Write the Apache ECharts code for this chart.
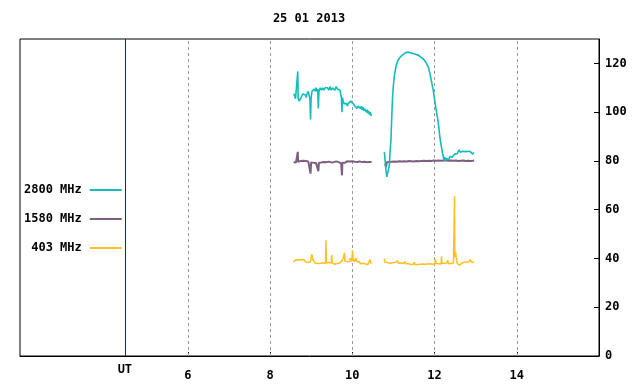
<!DOCTYPE html>
<html><head><meta charset="utf-8">
<script src="https://cdn.jsdelivr.net/npm/echarts@6/dist/echarts.min.js"></script>
<style>html,body{margin:0;padding:0;background:#fff}#c{width:640px;height:384px}</style>
</head><body><div id="c"></div>
<script>
var titleText = '25 01 2013';
var seriesNames = ['2800 MHz', '1580 MHz', '403 MHz'];
var xTicks = [6, 8, 10, 12, 14];
var utPos = 4.467;
var yTicks = [0, 20, 40, 60, 80, 100, 120];

var teal1 = [[8.58,107.6],[8.60,106.5],[8.62,105.5],[8.64,106],[8.66,105],[8.675,116.7],[8.685,105.5],[8.71,104.5],[8.73,105],[8.75,105.8],[8.77,106.5],[8.80,107.5],[8.82,107],[8.84,108],[8.86,107],[8.88,106],[8.90,107.5],[8.93,108.5],[8.95,107],[8.97,105.5],[8.985,97],[9.00,106],[9.02,108.5],[9.04,109],[9.06,108],[9.08,109.5],[9.10,108.5],[9.12,110],[9.14,108.5],[9.16,109.5],[9.175,101.5],[9.19,108.5],[9.22,110],[9.25,109],[9.28,110],[9.31,109],[9.34,110],[9.37,109.5],[9.40,110],[9.43,109],[9.46,110.5],[9.49,109],[9.52,110],[9.55,109.5],[9.58,109],[9.61,110.5],[9.64,109.5],[9.67,110],[9.70,109],[9.72,108.5],[9.735,106],[9.75,100],[9.76,106],[9.78,104.5],[9.80,103.5],[9.82,104],[9.84,103],[9.86,103.5],[9.88,102.5],[9.90,103.5],[9.92,104],[9.94,103.5],[9.96,104.5],[9.98,104],[10.00,104.5],[10.02,103.5],[10.04,104],[10.06,102.5],[10.08,102],[10.10,103],[10.12,101.5],[10.14,102.5],[10.16,102],[10.18,103],[10.20,101.5],[10.22,102.5],[10.24,101],[10.26,102],[10.28,100.5],[10.30,101.5],[10.32,101],[10.34,100],[10.36,101],[10.38,99.5],[10.40,100.5],[10.42,99],[10.44,100],[10.46,98.5],[10.47,99]];
var teal2 = [[10.78,83.7],[10.80,80],[10.82,76],[10.84,73.5],[10.86,74],[10.88,73.4],[10.90,78],[10.92,84],[10.94,88.4],[10.96,98],[10.98,106],[11.00,111],[11.02,114.4],[11.04,116.5],[11.06,118.5],[11.08,119.9],[11.10,120.8],[11.12,121.5],[11.14,122],[11.16,122.6],[11.19,123],[11.22,123.5],[11.25,123.8],[11.28,124],[11.31,124.5],[11.34,124],[11.37,124.6],[11.40,123.8],[11.43,124.3],[11.46,123.5],[11.49,124],[11.52,123.3],[11.55,123.6],[11.58,123],[11.61,123.4],[11.64,122.8],[11.67,122.5],[11.70,122],[11.73,121.8],[11.76,121.2],[11.79,120.5],[11.82,119.5],[11.85,118.5],[11.87,117],[11.89,115.8],[11.91,114],[11.93,112.3],[11.95,110.5],[11.97,108.9],[11.99,106.5],[12.01,104.1],[12.03,102],[12.05,100],[12.07,98],[12.09,95.9],[12.11,93],[12.13,89.8],[12.15,87.5],[12.17,85.7],[12.19,83.5],[12.21,82],[12.23,80.5],[12.25,81.5],[12.27,80],[12.29,81],[12.31,80.3],[12.33,81.5],[12.35,80.5],[12.37,81.8],[12.39,81],[12.41,82],[12.43,81.5],[12.45,82.3],[12.47,82],[12.49,82.8],[12.51,82.5],[12.53,83.3],[12.55,83],[12.57,83.5],[12.60,84.5],[12.63,83.5],[12.66,84.3],[12.69,84],[12.72,84.5],[12.75,83.8],[12.78,84.4],[12.81,84],[12.84,84.6],[12.87,83.8],[12.90,84.3],[12.93,82.8],[12.96,83.5]];

var purple1 = [[8.57,79.5],[8.60,79.8],[8.63,79.3],[8.66,79.9],[8.675,83.7],[8.685,79.6],[8.72,80.3],[8.75,80.0],[8.78,80.5],[8.81,80.1],[8.84,80.6],[8.87,80.0],[8.90,80.4],[8.93,79.8],[8.96,79.2],[8.985,74.8],[9.00,79.4],[9.03,79.8],[9.06,79.2],[9.09,79.7],[9.12,79.1],[9.15,79.6],[9.175,75.8],[9.19,79.3],[9.22,78.6],[9.25,79.4],[9.28,79.0],[9.31,79.6],[9.34,78.9],[9.37,79.5],[9.40,79.1],[9.43,79.7],[9.46,79.0],[9.49,79.4],[9.52,78.8],[9.55,79.5],[9.58,79.2],[9.61,79.8],[9.64,79.0],[9.67,79.5],[9.70,79.2],[9.73,79.0],[9.75,74.1],[9.76,79.3],[9.79,79.8],[9.82,79.2],[9.85,79.6],[9.88,79.9],[9.91,79.3],[9.94,79.8],[9.97,79.4],[10.00,79.9],[10.03,79.2],[10.06,79.7],[10.09,79.1],[10.12,79.6],[10.15,79.3],[10.18,79.8],[10.21,79.0],[10.24,79.5],[10.27,79.2],[10.30,79.7],[10.33,79.0],[10.36,79.5],[10.39,79.1],[10.42,79.6],[10.45,79.2],[10.47,79.6]];
var purple2 = [[10.80,78.9],[10.82,77.5],[10.84,79.5],[10.87,79.9],[10.90,79.6],[10.93,80.0],[10.96,79.7],[10.99,80.2],[11.02,79.8],[11.05,80.1],[11.08,79.7],[11.11,80.3],[11.14,79.9],[11.17,80.2],[11.20,79.8],[11.23,80.4],[11.26,79.9],[11.29,80.2],[11.32,79.8],[11.35,80.3],[11.38,80.0],[11.41,80.4],[11.44,79.9],[11.47,80.2],[11.50,79.8],[11.53,80.3],[11.56,80.0],[11.59,80.4],[11.62,79.9],[11.65,80.3],[11.68,80.0],[11.71,80.5],[11.74,80.1],[11.77,80.4],[11.80,80.0],[11.83,80.5],[11.86,80.1],[11.89,80.4],[11.92,80.0],[11.95,80.5],[11.98,80.2],[12.01,80.6],[12.04,80.1],[12.07,80.5],[12.10,80.2],[12.13,80.6],[12.16,80.1],[12.19,80.5],[12.22,80.2],[12.25,80.7],[12.28,80.2],[12.31,80.6],[12.34,80.1],[12.37,80.5],[12.40,80.2],[12.43,80.6],[12.46,80.1],[12.49,80.5],[12.52,80.2],[12.55,80.6],[12.58,80.0],[12.61,80.5],[12.64,80.1],[12.67,80.6],[12.70,80.2],[12.73,80.5],[12.76,80.0],[12.79,80.4],[12.82,80.1],[12.85,80.5],[12.88,80.0],[12.91,80.4],[12.94,80.1],[12.96,80.3]];

var orange1 = [[8.57,38.6],[8.60,38.9],[8.63,39.5],[8.65,40.0],[8.67,38.8],[8.70,39.4],[8.73,38.7],[8.76,39.6],[8.78,40.0],[8.80,39.0],[8.83,39.5],[8.86,38.6],[8.89,38.2],[8.92,38.4],[8.95,38.0],[8.98,38.5],[9.00,38.3],[9.015,41.8],[9.03,40.5],[9.05,39.2],[9.08,38.6],[9.11,38.0],[9.14,38.4],[9.17,37.9],[9.20,38.3],[9.23,38.0],[9.26,37.7],[9.29,38.2],[9.32,37.6],[9.35,37.9],[9.36,47.5],[9.37,38.2],[9.40,37.7],[9.43,38.3],[9.46,37.8],[9.49,38.1],[9.50,41.4],[9.51,38.4],[9.54,38.0],[9.57,37.6],[9.60,38.2],[9.63,37.9],[9.66,38.4],[9.69,38.1],[9.72,38.5],[9.75,39.0],[9.78,40.0],[9.80,39.2],[9.81,42.3],[9.82,38.9],[9.85,38.4],[9.88,38.7],[9.91,39.5],[9.94,38.8],[9.95,40.2],[9.97,39.6],[9.99,38.9],[10.005,43.4],[10.02,39.8],[10.05,38.6],[10.08,39.2],[10.09,40.2],[10.11,38.7],[10.14,38.2],[10.17,38.8],[10.20,37.8],[10.23,38.4],[10.26,38.0],[10.29,38.3],[10.32,37.7],[10.35,38.2],[10.38,37.4],[10.41,38.0],[10.43,39.6],[10.45,38.2],[10.47,37.9]];
var orange2 = [[10.78,40.0],[10.79,38.5],[10.81,39.0],[10.83,37.8],[10.86,38.3],[10.89,37.6],[10.92,38.0],[10.95,37.5],[10.98,38.2],[11.01,37.8],[11.04,38.4],[11.07,37.7],[11.10,39.0],[11.12,38.0],[11.15,37.6],[11.18,38.1],[11.21,37.5],[11.24,37.9],[11.27,37.6],[11.28,38.8],[11.30,37.8],[11.33,37.3],[11.36,37.8],[11.39,37.2],[11.42,37.6],[11.45,37.1],[11.48,37.5],[11.51,38.5],[11.53,37.4],[11.56,37.0],[11.59,37.5],[11.62,37.1],[11.65,37.6],[11.68,37.2],[11.71,37.7],[11.74,37.3],[11.77,37.6],[11.80,37.2],[11.83,37.7],[11.86,37.4],[11.89,37.8],[11.92,37.3],[11.95,37.6],[11.98,37.4],[12.01,37.8],[12.02,39.7],[12.04,37.9],[12.07,38.3],[12.10,37.8],[12.13,38.2],[12.16,37.7],[12.17,40.9],[12.18,38.0],[12.21,37.6],[12.24,38.0],[12.27,37.7],[12.30,38.1],[12.32,39.3],[12.34,37.8],[12.37,37.5],[12.40,37.9],[12.43,37.6],[12.46,38.0],[12.48,38.2],[12.487,65.5],[12.494,40.5],[12.51,42.7],[12.53,42.5],[12.55,38.0],[12.58,37.6],[12.61,37.2],[12.64,37.6],[12.67,38.2],[12.70,38.6],[12.73,38.4],[12.76,38.9],[12.79,38.5],[12.82,39.2],[12.85,38.6],[12.86,39.6],[12.88,38.8],[12.91,38.4],[12.93,39.2],[12.96,38.4]];

var colors = {'2800 MHz': '#14bcbc', '1580 MHz': '#7f5f80', '403 MHz': '#ffc020'};
var FONT = 'DejaVu Sans Mono';

function joinSeg(a, b) { return a.concat([[ (a[a.length-1][0] + b[0][0]) / 2, null ]], b); }

var chart = echarts.init(document.getElementById('c'), null, {renderer: 'canvas'});

var markData = xTicks.map(function (v) {
  return {xAxis: v, lineStyle: {color: '#999999', type: [3, 3], width: 1}, label: {show: false}};
});
markData.push({xAxis: utPos, lineStyle: {color: '#800000', type: 'solid', width: 1},
  label: {show: true, position: 'start', formatter: 'UT', distance: 8, color: '#000',
          fontFamily: FONT, fontWeight: 'bold', fontSize: 12}});

function lineSeries(name, data, width, extra) {
  var s = {
    name: name, type: 'line', data: data, symbol: 'none', showSymbol: false,
    connectNulls: false, animation: false,
    lineStyle: {color: colors[name], width: width},
    itemStyle: {color: colors[name]}
  };
  if (extra) for (var k in extra) s[k] = extra[k];
  return s;
}

chart.setOption({
  backgroundColor: '#fff',
  animation: false,
  title: {text: titleText, left: 309, top: 13, textAlign: 'center', padding: 0,
    textStyle: {fontFamily: FONT, fontWeight: 'bold', fontSize: 12, color: '#000'}},
  grid: {left: 20, right: 41, top: 39, bottom: 28, show: true, borderColor: '#000', borderWidth: 1, backgroundColor: 'transparent'},
  legend: {
    data: seriesNames, orient: 'vertical', align: 'right', left: 24, top: 184, padding: 0,
    icon: 'rect', itemWidth: 32, itemHeight: 2, itemGap: 17,
    textStyle: {fontFamily: FONT, fontWeight: 'bold', fontSize: 12, color: '#000', padding: [0, 3, 0, 0]}
  },
  xAxis: {
    type: 'value', min: 1.92, max: 16,
    axisLine: {show: true, lineStyle: {color: '#000'}},
    axisTick: {show: true, inside: true, length: 4, customValues: xTicks, lineStyle: {color: '#000'}},
    axisLabel: {show: true, customValues: xTicks, margin: 14, color: '#000', fontFamily: FONT, fontWeight: 'bold', fontSize: 12},
    splitLine: {show: false}
  },
  yAxis: {
    type: 'value', position: 'right', min: 0, max: 130, interval: 20,
    axisLine: {show: true, lineStyle: {color: '#000'}},
    axisTick: {show: true, inside: true, length: 5, lineStyle: {color: '#000'}},
    axisLabel: {show: true, showMaxLabel: false, margin: 6, color: '#000', fontFamily: FONT, fontWeight: 'bold', fontSize: 12},
    splitLine: {show: false}
  },
  series: [
    lineSeries('403 MHz', joinSeg(orange1, orange2), 1.5, {
      markLine: {silent: true, symbol: ['none', 'none'], animation: false, z: 1, data: markData}
    }),
    lineSeries('1580 MHz', joinSeg(purple1, purple2), 2),
    lineSeries('2800 MHz', joinSeg(teal1, teal2), 1.6)
  ]
});
</script></body></html>
